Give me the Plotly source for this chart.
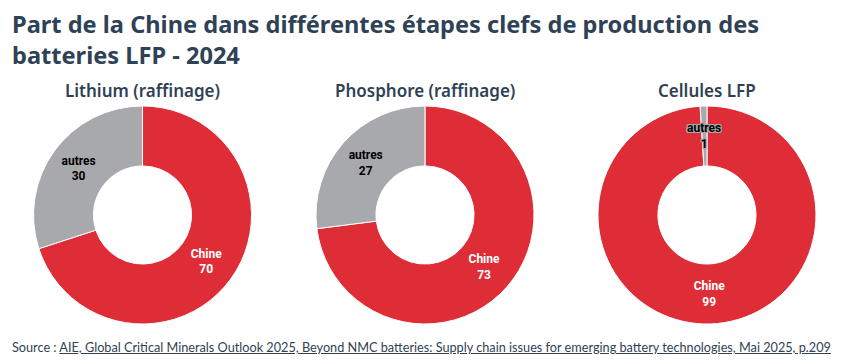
import math
import plotly.graph_objects as go

titles = ["Lithium (raffinage)", "Phosphore (raffinage)", "Cellules LFP"]
labels = ["Chine", "autres"]
chine = [70, 73, 99]
autres = [30, 27, 1]

RED = "#DF2D37"
GREY = "#A7A9AC"
DARK = "#2F4255"

W, H = 834, 346   # page body adds an 8px margin around the figure
HOLE = 0.45
x_domains = [[0.0306, 0.2920], [0.3693, 0.6307], [0.7074, 0.9688]]
y_domain = [0.0867, 0.7168]

TPL = "<b>%{label}</b><br><b>%{value}</b>"
MIN_SHARE_INSIDE = 5  # slices smaller than this get their label at the ring's mid radius

fig = go.Figure()
for i in range(3):
    vals = [chine[i], autres[i]]
    total = sum(vals)
    tpls = [TPL if v >= MIN_SHARE_INSIDE else "" for v in vals]
    fig.add_trace(go.Pie(
        labels=labels,
        values=vals,
        hole=HOLE,
        sort=False,
        direction="clockwise",
        rotation=0,
        marker=dict(colors=[RED, GREY], line=dict(color="white", width=1)),
        texttemplate=tpls,
        textposition="inside",
        insidetextorientation="horizontal",
        textfont=dict(family="Roboto", size=12, color=["white", "black"]),
        hoverinfo="label+value",
        domain=dict(x=x_domains[i], y=y_domain),
        showlegend=False,
    ))
    xc = (x_domains[i][0] + x_domains[i][1]) / 2
    yc = (y_domain[0] + y_domain[1]) / 2
    R = min((x_domains[i][1] - x_domains[i][0]) * W, (y_domain[1] - y_domain[0]) * H) / 2
    rmid = R * (1 + HOLE) / 2
    cum = 0
    for j, v in enumerate(vals):
        if v < MIN_SHARE_INSIDE:
            ang = 2 * math.pi * (cum + v / 2) / total
            ax = xc + rmid * math.sin(ang) / W
            ay = yc + rmid * math.cos(ang) / H
            fig.add_annotation(
                text=f"<b>{labels[j]}</b><br><b>{v}</b>", x=ax, y=ay,
                xref="paper", yref="paper", xanchor="center", yanchor="middle",
                showarrow=False,
                font=dict(family="Roboto", size=12, color="black",
                          shadow="1px 1px 0 #A7A9AC, -1px -1px 0 #A7A9AC, 1px -1px 0 #A7A9AC, -1px 1px 0 #A7A9AC, 0 1px 0 #A7A9AC, 0 -1px 0 #A7A9AC, 1px 0 0 #A7A9AC, -1px 0 0 #A7A9AC"),
            )
        cum += v
    fig.add_annotation(
        text=titles[i], x=xc, y=(H - 82) / H, xref="paper", yref="paper",
        xanchor="center", yanchor="middle", showarrow=False,
        font=dict(family="Noto Sans", size=17, color=DARK, weight=600),
    )

fig.add_annotation(
    text="Part de la Chine dans différentes étapes clefs de production des<br>batteries LFP - 2024",
    x=2 / W, y=1 + 2 / H, xref="paper", yref="paper", xanchor="left", yanchor="top",
    align="left", showarrow=False,
    font=dict(family="Noto Sans", size=23.6, color=DARK, weight=700),
)

fig.add_annotation(
    text='Source : <a href="https://www.iea.org" style="text-decoration: underline; color:#2F4255">'
         'AIE, Global Critical Minerals Outlook 2025, Beyond NMC batteries: Supply chain issues for emerging battery technologies, Mai 2025, p.209</a>',
    x=2 / W, y=(H - 339) / H, xref="paper", yref="paper", xanchor="left", yanchor="middle",
    showarrow=False,
    font=dict(family="Lato", size=12.7, color=DARK),
)

fig.update_layout(
    width=W, height=H,
    margin=dict(l=0, r=0, t=0, b=0),
    paper_bgcolor="white", plot_bgcolor="white",
    uniformtext=dict(minsize=12, mode="show"),
)

fig.write_html("out.html")
